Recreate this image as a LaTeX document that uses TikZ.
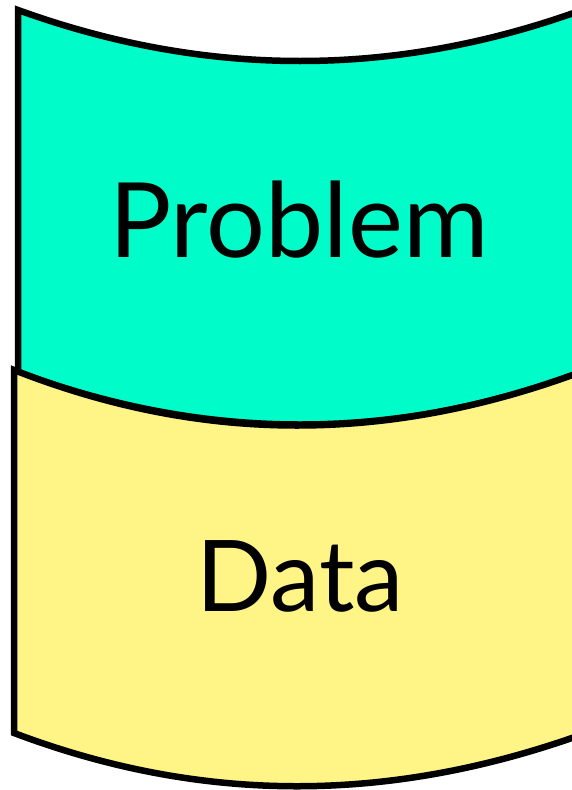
\documentclass[tikz,border=0pt]{standalone}
\usepackage{fontspec}
\setmainfont{Lato}
\definecolor{bannerteal}{RGB}{0,252,200}
\definecolor{banneryellow}{RGB}{255,244,134}
\begin{document}
\begin{tikzpicture}[x=1pt,y=-1pt,
  banner/.style={draw=black,line width=6.5pt,line join=miter},
  label/.style={inner sep=0pt,anchor=base,text=black}]
\useasboundingbox (0,0) rectangle (572,790);
\clip (0,0) rectangle (572,790);
% upper banner
\path[banner,fill=bannerteal]
  (18,10) .. controls (206,78) and (394,78) .. (582,10)
  -- (582,372) .. controls (394,442) and (206,442) .. (18,372) -- cycle;
% lower banner, lying over the upper one
\path[banner,fill=banneryellow]
  (14,370) .. controls (202,444) and (390,444) .. (586,370)
  -- (586,733) .. controls (390,804) and (202,804) .. (14,733) -- cycle;
\node[label,font=\fontsize{104}{110}\selectfont] (problem) at (299,257) {Problem};
\node[label,font=\fontsize{99}{106}\selectfont] (data) at (300,611) {Data};
\end{tikzpicture}
\end{document}
